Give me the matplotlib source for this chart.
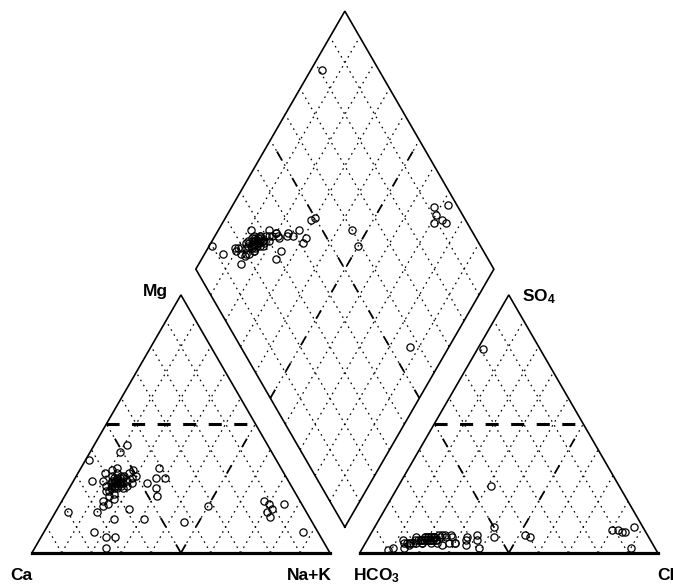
import numpy as np
import matplotlib.pyplot as plt

plt.rcParams["font.family"] = ["Liberation Sans", "DejaVu Sans"]
plt.rcParams["font.weight"] = "bold"
plt.rcParams["mathtext.fontset"] = "custom"
plt.rcParams["mathtext.bf"] = "Liberation Sans:bold"
plt.rcParams["mathtext.rm"] = "Liberation Sans:bold"
plt.rcParams["mathtext.default"] = "bf"
plt.rcParams["lines.scale_dashes"] = False

# milliequivalent percentages per sample
nak = [12, 14, 15, 16, 13, 17, 15, 14, 18, 16, 11, 13, 17, 19, 20, 18, 16, 15, 17, 14,
       12, 10, 9, 12, 18, 20, 19, 16, 15, 13,
       14, 15, 16, 15, 14, 13, 16, 17, 15, 14, 16, 15, 13, 14, 16,
       70, 75, 73, 72, 68, 71,
       26, 27, 30, 29, 31, 25, 21, 24, 31, 25, 22, 24,
       4, 87, 45, 50, 11, 10, 6, 14, 1, 17]
mg = [30, 29, 28, 27, 27, 26, 25, 24, 28, 30, 32, 31, 31, 29, 27, 25, 23, 22, 21, 20,
      26, 28, 31, 33, 32, 30, 26, 19, 18, 24,
      28, 27, 28, 26, 27, 28, 29, 27, 29, 26, 25, 30, 29, 25, 26,
      19, 19, 14, 17, 20, 16,
      33, 29, 29, 25, 22, 27, 13, 17, 13, 6, 6, 2,
      16, 8, 12, 18, 42, 39, 28, 16, 36, 8]
cl = [18, 20, 22, 19, 17, 24, 21, 16, 23, 20, 15, 19, 25, 26, 27, 22, 18, 17, 21, 15,
      14, 13, 12, 16, 24, 28, 23, 20, 19, 16,
      20, 21, 19, 22, 18, 20, 21, 22, 19, 20, 23, 21, 18, 19, 22,
      82, 85, 90, 87, 84, 80,
      33, 37, 40, 42, 39, 28, 30, 33, 36, 26, 30, 34,
      2, 31, 54, 52, 22, 15, 10, 14, 9, 24]
so4 = [5, 5, 6, 4, 5, 6, 5, 4, 5, 6, 4, 6, 7, 6, 7, 5, 5, 4, 5, 4,
       4, 4, 5, 6, 7, 6, 7, 5, 4, 5,
       5, 6, 5, 6, 5, 6, 5, 6, 5, 6, 5, 6, 5, 6, 5,
       9, 8, 2, 10, 8, 9,
       6, 5, 10, 6, 2, 4, 4, 5, 7, 3, 4, 3,
       79, 26, 6, 7, 4, 3, 2, 2, 1, 4]

H = np.sqrt(3) / 2
GAP = 0.1


def cation_xy(nak_p, mg_p):
    n = np.asarray(nak_p, dtype=float) / 100
    m = np.asarray(mg_p, dtype=float) / 100
    return n + m / 2, m * H


def anion_xy(cl_p, so4_p):
    c = np.asarray(cl_p, dtype=float) / 100
    s = np.asarray(so4_p, dtype=float) / 100
    return 1 + GAP + c + s / 2, s * H


def diamond_xy(camg_p, clso4_p):
    u = np.asarray(camg_p, dtype=float) / 100
    v = np.asarray(clso4_p, dtype=float) / 100
    return 1 + GAP / 2 + (v - u) / 2, GAP * H + (u + v) * H


fig = plt.figure(figsize=(6.73, 5.86), dpi=100)
ax = fig.add_axes([0, 0, 1, 1])
ax.set_xlim(-0.107, 2.151)
ax.set_ylim(-0.111, 1.856)
ax.axis("off")

dot = dict(color="black", lw=0.9, linestyle=(0, (1.2, 3.0)))
for t in range(10, 100, 10):
    ax.plot(*cation_xy([t, t], [0, 100 - t]), **dot)
    ax.plot(*cation_xy([t, 0], [0, t]), **dot)
    ax.plot(*anion_xy([t, t], [0, 100 - t]), **dot)
    ax.plot(*anion_xy([t, 0], [0, t]), **dot)
    ax.plot(*diamond_xy([t, t], [0, 100]), **dot)
    ax.plot(*diamond_xy([0, 100], [t, t]), **dot)

sparse = dict(color="black", lw=1.3, linestyle=(0, (7, 15)))
ax.plot(*cation_xy([50, 50], [0, 50]), **sparse)
ax.plot(*cation_xy([50, 0], [0, 50]), **sparse)
ax.plot(*anion_xy([50, 50], [0, 50]), **sparse)
ax.plot(*anion_xy([50, 0], [0, 50]), **sparse)
ax.plot(*diamond_xy([50, 50], [0, 100]), **sparse)
ax.plot(*diamond_xy([0, 100], [50, 50]), **sparse)

thick = dict(color="black", lw=2.2, linestyle=(0, (9.4, 9.0)))
ax.plot(*cation_xy([0, 50], [50, 50]), **thick)
ax.plot(*anion_xy([0, 50], [50, 50]), **thick)

edge = dict(color="black", lw=1.2, solid_joinstyle="miter")
ax.plot(*cation_xy([0, 0, 100], [0, 100, 0]), **edge)
ax.plot(*anion_xy([0, 0, 100], [0, 100, 0]), **edge)
ax.plot(*diamond_xy([0, 100, 100, 0, 0], [0, 0, 100, 100, 0]), **edge)
ax.plot(*cation_xy([0, 100], [0, 0]), color="black", lw=2.3)
ax.plot(*anion_xy([0, 100], [0, 0]), color="black", lw=2.3)

camg = 100 - np.asarray(nak)
clso4 = np.asarray(cl) + np.asarray(so4)
mk = dict(linestyle="none", marker="o", ms=5.2, mfc="none", mec="black", mew=0.9)
ax.plot(*cation_xy(nak, mg), **mk)
ax.plot(*anion_xy(cl, so4), **mk)
ax.plot(*diamond_xy(camg, clso4), **mk)

fs = 12.5
ax.text(-0.074, -0.091, "Ca", fontsize=fs, ha="left", va="baseline")
ax.text(0.856, -0.091, "Na+K", fontsize=fs, ha="left", va="baseline")
ax.text(0.372, 0.862, "Mg", fontsize=fs, ha="left", va="baseline")
ax.text(1.644, 0.846, r"SO$_4$", fontsize=fs, ha="left", va="baseline")
ax.text(1.077, -0.091, r"HCO$_3$", fontsize=fs, ha="left", va="baseline")
ax.text(2.097, -0.091, "Cl", fontsize=fs, ha="left", va="baseline")

plt.savefig("out.png", dpi=100)
plt.close()
